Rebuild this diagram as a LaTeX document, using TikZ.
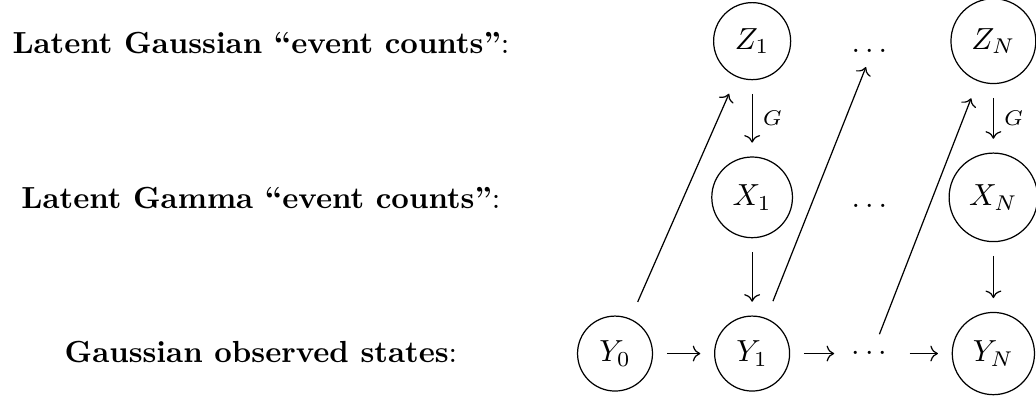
\documentclass[tikz,border=0pt]{standalone}
\usepackage{amsmath}
\usepackage{tikz}
\usetikzlibrary{arrows.meta}

\tikzset{
  rv/.style={draw, circle, inner xsep=1ex, inner ysep=0.85ex},
  dotsnode/.style={inner sep=1pt},
  arr/.style={-{Computer Modern Rightarrow}, shorten <=4.5pt, shorten >=4.5pt},
  diag/.style={arr, shorten <=6pt, shorten >=6pt},
  rowlabel/.style={anchor=base}
}

\begin{document}
\begin{tikzpicture}
    \useasboundingbox (-7.087,-0.524) rectangle (4.851,4.074);
    % Row labels
    \node[rowlabel] (lz) at (-4.08,3.463) {\textbf{Latent Gaussian ``event counts''}:};
    \node[rowlabel] (lx) at (-4.08,1.677) {\textbf{Latent Gamma ``event counts''}:};
    \node[rowlabel] (ly) at (-4.08,-0.098) {\textbf{Gaussian observed states}:};
    % Observed states
    \node[rv] (y0) at (0,0) {$Y_0$};
    \node[rv] (y1) at (1.58,0) {$Y_1$};
    \node[dotsnode] (yd) at (2.96,0) {$\cdots$};
    \node[rv] (yn) at (4.36,0) {$Y_N$};
    % Gamma counts
    \node[rv] (x1) at (1.58,1.8) {$X_1$};
    \node[dotsnode, anchor=base] (xd) at (2.96,1.688) {$\dots$};
    \node[rv] (xn) at (4.36,1.8) {$X_N$};
    % Gaussian counts
    \node[rv] (z1) at (1.58,3.6) {$Z_1$};
    \node[dotsnode, anchor=base] (zd) at (2.96,3.474) {$\dots$};
    \node[rv] (zn) at (4.36,3.6) {$Z_N$};
    % Chain
    \draw[arr] (y0) -- (y1);
    \draw[arr] (y1) -- (yd);
    \draw[arr] (yd) -- (yn);
    % Transformations
    \draw[arr] (z1) -- node[right, font=\scriptsize] {$G$} (x1);
    \draw[arr] (zn) -- node[right, font=\scriptsize] {$G$} (xn);
    \draw[arr] (x1) -- (y1);
    \draw[arr] (xn) -- (yn);
    % Feedback
    \draw[diag] (y0) -- (z1);
    \draw[diag, shorten >=5.3pt] (y1) -- (zd.base);
    \draw[diag, shorten <=6.8pt] (yd.center) -- (zn);
\end{tikzpicture}
\end{document}
